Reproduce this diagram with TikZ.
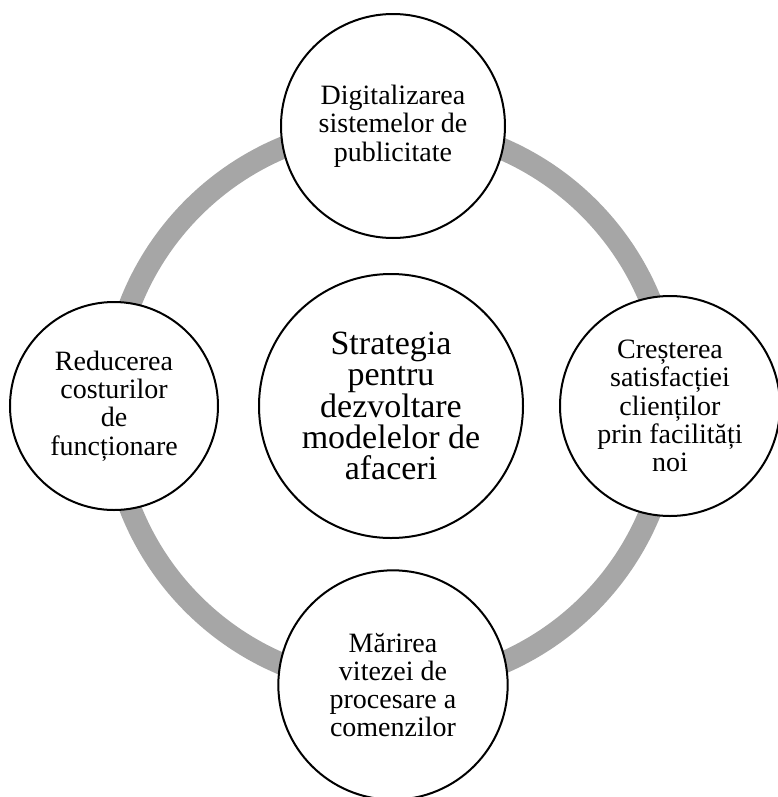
\documentclass[tikz,border=0pt]{standalone}
\usepackage{fontspec}
\setmainfont{Liberation Serif}
\begin{document}
\begin{tikzpicture}[x=0.75pt,y=-0.75pt,
  bubble/.style={circle,draw=black,line width=1.5pt,fill=white,align=center,
    inner sep=0pt,font=\fontsize{21}{21.2}\selectfont},
  hub/.style={bubble,font=\fontsize{25.5}{23.5}\selectfont},
  loop/.style={draw={rgb,255:red,166;green,166;blue,166},line width=16.5pt}]
  \useasboundingbox (0,0) rectangle (778,797);
  \clip (0,0) rectangle (778,797);
  % grey ring linking the four outer bubbles
  \coordinate (ringc) at (391,406);
  \draw[loop] (ringc) circle[radius=210pt];
  % central strategy bubble
  \node[hub,minimum size=198pt] (core) at (391,406)
    {Strategia\\pentru\\dezvoltare\\modelelor de\\afaceri};
  % outer bubbles
  \node[bubble,minimum size=168pt] (top) at (393,126)
    {Digitalizarea\\sistemelor de\\publicitate};
  \node[bubble,minimum size=156pt] (left) at (114,406)
    {Reducerea\\costurilor\\de\\funcționare};
  \node[bubble,minimum size=165pt] (right) at (670,406)
    {Creșterea\\satisfacției\\clienților\\prin facilități\\noi};
  \node[bubble,minimum size=172pt] (bottom) at (393,685)
    {Mărirea\\vitezei de\\procesare a\\comenzilor};
\end{tikzpicture}
\end{document}
